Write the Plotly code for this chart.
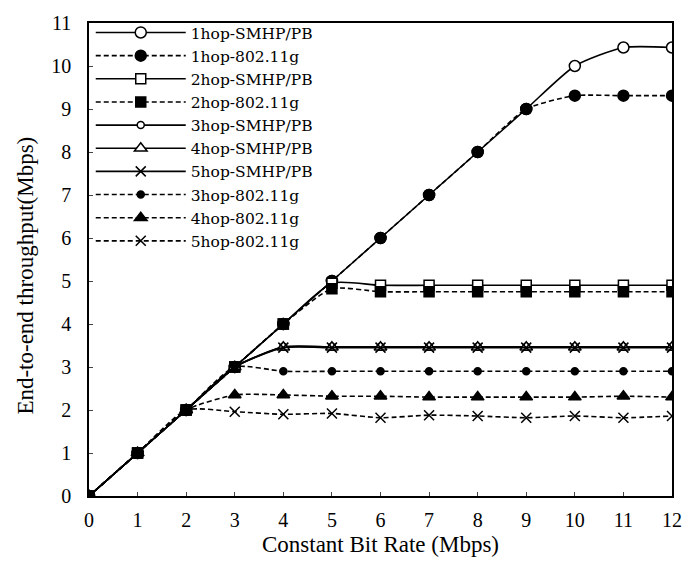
import plotly.graph_objects as go

x_cbr = [0, 1, 2, 3, 4, 5, 6, 7, 8, 9, 10, 11, 12]
x_ticks = [0, 1, 2, 3, 4, 5, 6, 7, 8, 9, 10, 11, 12]
y_ticks = [0, 1, 2, 3, 4, 5, 6, 7, 8, 9, 10, 11]

hop1_smhp = [0, 1, 2, 3, 4, 5, 6, 7, 8, 9, 10.0, 10.43, 10.43]
hop1_80211 = [0, 1, 2, 3, 4, 5, 6, 7, 8, 9, 9.31, 9.31, 9.31]
hop2_smhp = [0, 1, 2, 3, 4, 4.95, 4.9, 4.9, 4.9, 4.9, 4.9, 4.9, 4.9]
hop2_80211 = [0, 1, 2, 3, 4, 4.82, 4.75, 4.75, 4.75, 4.75, 4.75, 4.75, 4.75]
hop3_smhp = [0, 1, 2, 3, 3.47, 3.47, 3.47, 3.47, 3.47, 3.47, 3.47, 3.47, 3.47]
hop4_smhp = [0, 1, 2, 3, 3.46, 3.46, 3.46, 3.46, 3.46, 3.46, 3.46, 3.46, 3.46]
hop5_smhp = [0, 1, 2, 3, 3.45, 3.45, 3.45, 3.45, 3.45, 3.45, 3.45, 3.45, 3.45]
hop3_80211 = [0, 1, 2, 3, 2.9, 2.9, 2.9, 2.9, 2.9, 2.9, 2.9, 2.9, 2.9]
hop4_80211 = [0, 1, 2, 2.35, 2.35, 2.32, 2.32, 2.3, 2.3, 2.3, 2.3, 2.32, 2.3]
hop5_80211 = [0, 1, 2, 1.96, 1.9, 1.92, 1.82, 1.88, 1.86, 1.82, 1.86, 1.82, 1.86]

x_title = "Constant Bit Rate (Mbps)"
y_title = "End-to-end throughput(Mbps)"

series = [
    ("1hop-SMHP/PB", hop1_smhp, "solid", "circle", "white", 11),
    ("1hop-802.11g", hop1_80211, "5px,3px", "circle", "black", 11),
    ("2hop-SMHP/PB", hop2_smhp, "solid", "square", "white", 10),
    ("2hop-802.11g", hop2_80211, "5px,3px", "square", "black", 10),
    ("3hop-SMHP/PB", hop3_smhp, "solid", "circle", "white", 7),
    ("4hop-SMHP/PB", hop4_smhp, "solid", "triangle-up", "white", 11),
    ("5hop-SMHP/PB", hop5_smhp, "solid", "x-thin", "black", 10),
    ("3hop-802.11g", hop3_80211, "5px,3px", "circle", "black", 7),
    ("4hop-802.11g", hop4_80211, "5px,3px", "triangle-up", "black", 11),
    ("5hop-802.11g", hop5_80211, "5px,3px", "x-thin", "black", 10),
]

fig = go.Figure()
for name, ys, dash, sym, fill, size in series:
    fig.add_trace(go.Scatter(
        x=x_cbr, y=ys, name=name, mode="lines+markers",
        line=dict(color="black", width=1.6, dash=dash, shape="spline", smoothing=0.6),
        marker=dict(symbol=sym, size=size, color=fill,
                    line=dict(color="black", width=1.5)),
    ))

serif = "Liberation Serif"
fig.update_layout(
    width=694, height=565,
    margin=dict(l=89, r=14, t=15, b=69),
    paper_bgcolor="white", plot_bgcolor="white",
    font=dict(family=serif, size=18, color="black"),
    showlegend=True,
    legend=dict(x=0.003, y=1.015, xanchor="left", yanchor="top",
                bgcolor="rgba(0,0,0,0)", borderwidth=0,
                font=dict(family="DejaVu Serif", size=15.5, color="black"),
                tracegroupgap=0, itemwidth=90),
    xaxis=dict(range=[0, 12], tickvals=x_ticks, ticktext=[str(v) for v in x_ticks],
               showgrid=False, zeroline=False, showline=True, linecolor="black",
               linewidth=1.5, mirror=True, ticks="inside", ticklen=4,
               ticklabelstandoff=5,
               tickfont=dict(family=serif, size=20),
               title=dict(text=x_title, font=dict(family=serif, size=23),
                          standoff=6)),
    yaxis=dict(range=[0, 11], tickvals=y_ticks, ticktext=[str(v) for v in y_ticks],
               showgrid=False, zeroline=False, showline=True, linecolor="black",
               linewidth=1.5, mirror=True, ticks="inside", ticklen=4,
               ticklabelstandoff=12,
               tickfont=dict(family=serif, size=20)),
    annotations=[dict(text=y_title, textangle=-90, xref="paper", yref="paper",
                      x=-0.108, y=0.466, xanchor="center", yanchor="middle",
                      showarrow=False, font=dict(family=serif, size=23, color="black"))],
)

fig.write_html("out.html")
